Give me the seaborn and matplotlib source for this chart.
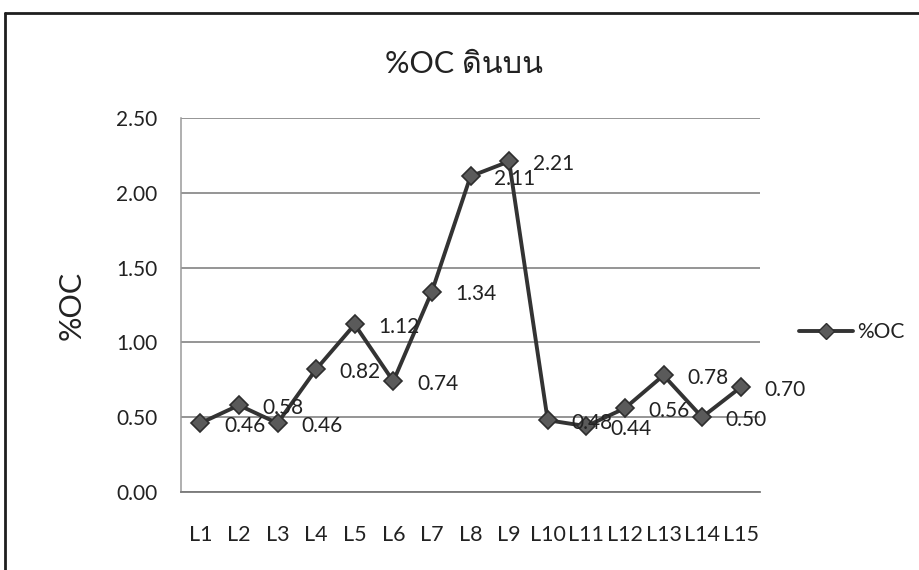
import matplotlib
matplotlib.use("Agg")
import matplotlib.pyplot as plt
from matplotlib import font_manager
from matplotlib.ft2font import FT2Font
from matplotlib.lines import Line2D
import seaborn as sns
import pandas as pd

# Sampling sites and organic carbon (%) of the topsoil
sites = ["L1", "L2", "L3", "L4", "L5", "L6", "L7", "L8",
         "L9", "L10", "L11", "L12", "L13", "L14", "L15"]
oc_values = [0.46, 0.58, 0.46, 0.82, 1.12, 0.74, 1.34, 2.11,
             2.21, 0.48, 0.44, 0.56, 0.78, 0.50, 0.70]
y_ticks = [0.0, 0.5, 1.0, 1.5, 2.0, 2.5]
series_name = "%OC"
title_text = "%OC ดินบน"


def find_thai_family():
    """Return the first installed family that has Thai glyphs."""
    seen = set()
    for fe in font_manager.fontManager.ttflist:
        if fe.name in seen:
            continue
        seen.add(fe.name)
        try:
            cmap = FT2Font(fe.fname).get_charmap()
        except Exception:
            continue
        if 0x0E14 in cmap and 0x0E19 in cmap:
            return fe.name
    return None


sns.set_theme(style="white")
families = ["Lato", "DejaVu Sans"]
thai = find_thai_family()
if thai:
    families.insert(1, thai)
plt.rcParams["font.family"] = families

df = pd.DataFrame({"site": sites, "oc": oc_values})

fig = plt.figure(figsize=(9.19, 5.7), dpi=100)
ax = fig.add_axes([181 / 919, 1 - 492 / 570, (760 - 181) / 919, (492 - 118) / 570])

line_color = "#333333"
sns.lineplot(data=df, x="site", y="oc", sort=False, ax=ax,
             color=line_color, linewidth=2.8, marker="D", markersize=9.5,
             markerfacecolor="#5a5a5a", markeredgecolor="#2e2e2e",
             markeredgewidth=1.2, label=series_name, legend=False)

for i, v in enumerate(oc_values):
    ax.annotate(f"{v:.2f}", (i, v), xytext=(17, -2), textcoords="offset points",
                ha="left", va="center", fontsize=15, color="#222222")

ax.set_xlim(-0.5, len(sites) - 0.5)
ax.set_ylim(0, 2.5)
ax.set_yticks(y_ticks)
ax.set_yticklabels([f"{t:.2f}" for t in y_ticks])
ax.set_xticks(range(len(sites)))
ax.set_xticklabels(sites)
ax.tick_params(axis="x", length=0, pad=24, labelsize=15.5, labelcolor="#222222")
ax.tick_params(axis="y", length=0, pad=17, labelsize=15, labelcolor="#222222")
ax.set_xlabel("")
ax.set_ylabel("%OC", fontsize=22, color="#222222", labelpad=22)
ax.yaxis.grid(True, color="#8c8c8c", linewidth=1.3)
ax.set_axisbelow(True)
for side in ["top", "right"]:
    ax.spines[side].set_visible(False)
ax.spines["left"].set_color("#9a9a9a")
ax.spines["left"].set_linewidth(1.1)
ax.spines["bottom"].set_color("#7a7a7a")
ax.spines["bottom"].set_linewidth(1.3)

fig.text(464 / 919, 1 - 64 / 570, title_text, ha="center", va="center",
         fontsize=22, color="#222222")

handle = Line2D([], [], color=line_color, linewidth=2.8, marker="D", markersize=8,
                markerfacecolor="#5a5a5a", markeredgecolor="#2e2e2e")
fig.legend([handle], [series_name], loc="center left",
           bbox_to_anchor=(780 / 919, 1 - 332 / 570), frameon=False,
           fontsize=15, handlelength=2.6, handletextpad=0.2,
           labelcolor="#222222")

# Chart frame (top and left edges)
fig.add_artist(Line2D([5 / 919, 1.0], [1 - 13 / 570, 1 - 13 / 570],
                      transform=fig.transFigure, color="#1e1e1e", linewidth=2))
fig.add_artist(Line2D([5 / 919, 5 / 919], [1 - 13 / 570, 0.0],
                      transform=fig.transFigure, color="#1e1e1e", linewidth=2))

fig.savefig("out.png", dpi=100)
